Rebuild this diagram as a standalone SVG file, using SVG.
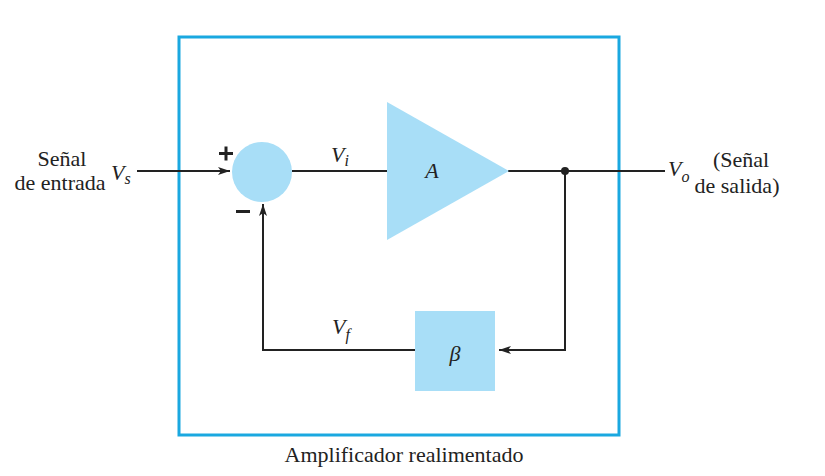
<svg xmlns="http://www.w3.org/2000/svg" width="825" height="476" viewBox="0 0 825 476" font-family="Liberation Serif, serif" font-size="22">
<style>
.i{font-style:italic}
.w{stroke:#222;stroke-width:2;fill:none}
.f{fill:#a8def7}
</style>
<defs>
<marker id="ah" markerWidth="12" markerHeight="8" refX="12" refY="4" orient="auto" markerUnits="userSpaceOnUse">
<path d="M0,0 L12,4 L0,8 L3,4 Z" fill="#222"/>
</marker>
</defs>
<rect width="825" height="476" fill="#fff"/>
<g id="frame">
<rect x="179" y="37" width="440" height="398" fill="none" stroke="#1aa8e0" stroke-width="3"/>
<text x="404" y="462" text-anchor="middle" fill="#222" font-family="Liberation Serif, serif">Amplificador realimentado</text>
</g>
<g id="connectors">
<line class="w" x1="137" y1="171" x2="230" y2="171" marker-end="url(#ah)"/>
<line class="w" x1="292" y1="171" x2="388" y2="171"/>
<line class="w" x1="508" y1="171" x2="665" y2="171"/>
<polyline class="w" points="565,171 565,350 499,350" marker-end="url(#ah)"/>
<polyline class="w" points="415,350 263,350 263,204" marker-end="url(#ah)"/>
<circle cx="565" cy="171" r="4" fill="#222"/>
</g>
<g id="input" fill="#222" font-family="Liberation Serif, serif">
<text x="62" y="166" text-anchor="middle">Señal</text>
<text x="60" y="190" text-anchor="middle">de entrada</text>
<text class="i" x="111" y="180">V<tspan font-size="16" dy="4">s</tspan></text>
</g>
<g id="summer">
<circle class="f" cx="262" cy="172" r="30"/>
<rect x="219" y="152" width="14" height="3" fill="#222"/>
<rect x="224.5" y="146.5" width="3" height="14" fill="#222"/>
<rect x="236" y="210" width="14" height="3" fill="#222"/>
</g>
<g id="vi" fill="#222" font-family="Liberation Serif, serif"><text class="i" x="331" y="162">V<tspan font-size="16" dy="4">i</tspan></text></g>
<g id="amplifier">
<polygon class="f" points="387,102 387,240 509,171"/>
<text class="i" x="432" y="178" text-anchor="middle" fill="#222" font-family="Liberation Serif, serif">A</text>
</g>
<g id="output" fill="#222" font-family="Liberation Serif, serif">
<text class="i" x="668" y="176">V<tspan font-size="16" dy="6">o</tspan></text>
<text x="741" y="167" text-anchor="middle">(Señal</text>
<text x="737" y="193" text-anchor="middle">de salida)</text>
</g>
<g id="beta">
<rect class="f" x="415" y="311" width="80" height="80"/>
<text class="i" x="455" y="361" text-anchor="middle" fill="#222" font-family="Liberation Serif, serif">β</text>
</g>
<g id="vf" fill="#222" font-family="Liberation Serif, serif"><text class="i" x="332" y="334">V<tspan font-size="16" dy="6">f</tspan></text></g>
</svg>
